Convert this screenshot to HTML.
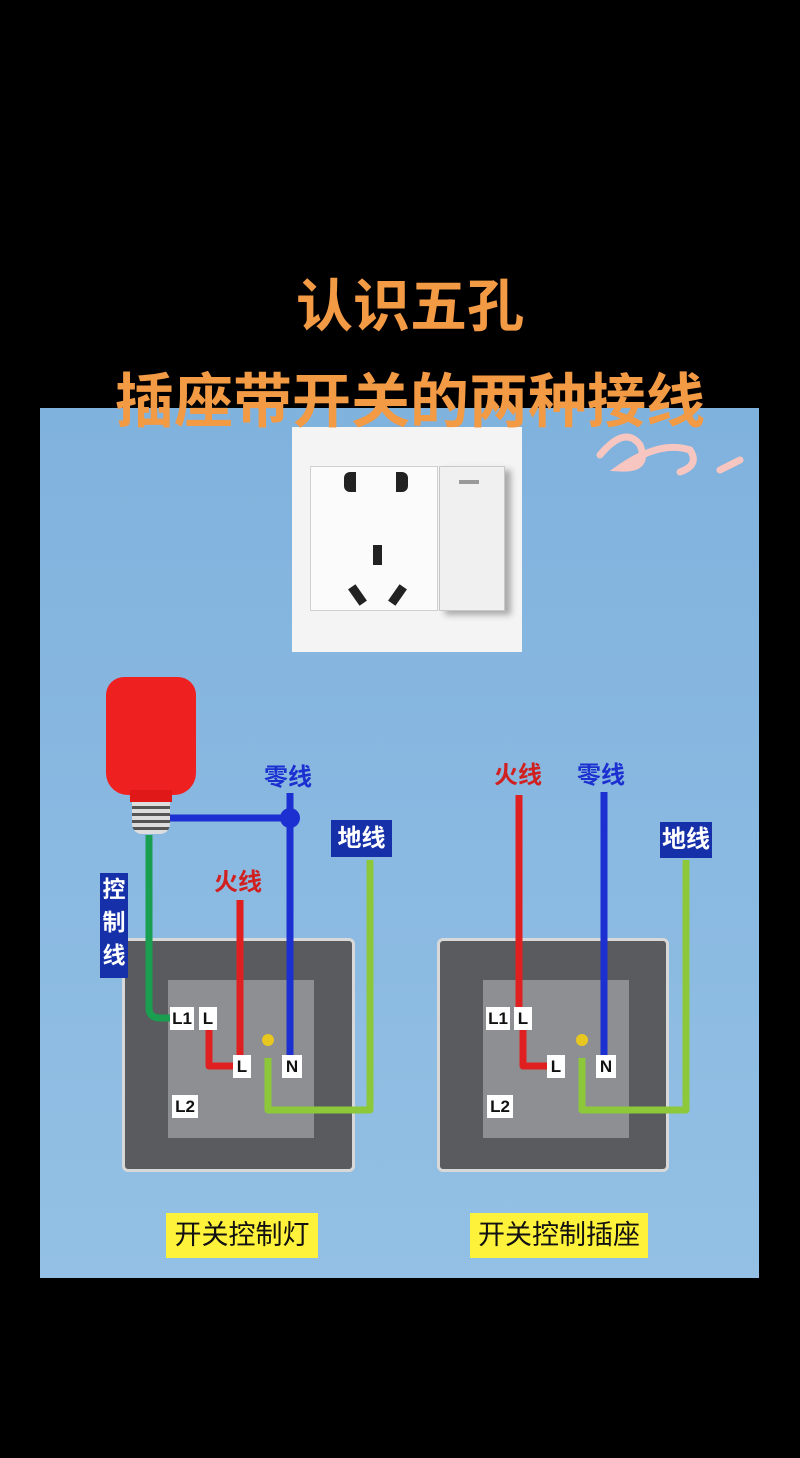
<!DOCTYPE html>
<html><head><meta charset="utf-8"><style>
*{margin:0;padding:0;box-sizing:border-box}
body{width:800px;height:1458px;background:#000;position:relative;overflow:hidden;font-family:"Liberation Sans","Noto Sans CJK SC",sans-serif}
.a{position:absolute}
.t{color:#f39a45;font-weight:bold;white-space:nowrap;text-align:center;width:800px;left:10px}
.lbl{position:absolute;background:#fff;color:#111;font-weight:bold;font-size:17px;text-align:center;line-height:23px;height:23px}
.box{position:absolute;background:#1530a8;color:#fff;font-size:24px;text-align:center;font-weight:bold}
.ylw{position:absolute;background:#fff23a;color:#111;font-size:27px;text-align:center;line-height:45px;height:45px}
</style></head><body>
<div class="a" style="left:40px;top:408px;width:719px;height:870px;background:linear-gradient(#80b2de,#93c0e4)"></div>
<div class="a" style="left:292px;top:427px;width:230px;height:225px;background:#f4f4f4"></div>
<div class="a" style="left:310px;top:466px;width:128px;height:145px;background:#fbfbfb;border:1px solid #d0d0d0"></div>
<div class="a" style="left:439px;top:466px;width:66px;height:145px;background:#f0f0f0;border:1px solid #c8c8c8;box-shadow:6px 4px 6px #aaa"></div>
<div class="a" style="left:459px;top:480px;width:20px;height:4px;background:#999"></div>
<div class="a" style="left:344px;top:472px;width:12px;height:20px;background:#222;border-radius:6px 0 0 6px"></div>
<div class="a" style="left:396px;top:472px;width:12px;height:20px;background:#222;border-radius:0 6px 6px 0"></div>
<div class="a" style="left:373px;top:545px;width:9px;height:20px;background:#222"></div>
<div class="a" style="left:353px;top:585px;width:9px;height:20px;background:#222;transform:rotate(-35deg)"></div>
<div class="a" style="left:393px;top:585px;width:9px;height:20px;background:#222;transform:rotate(35deg)"></div>
<div class="t a" style="top:271px;font-size:57px;line-height:72px">认识五孔</div>
<div class="t a" style="top:365px;font-size:59px;line-height:74px">插座带开关的两种接线</div>
<svg class="a" style="left:0;top:0" width="800" height="1458">
<path d="M600 455 Q625 425 640 445 Q650 470 620 468 Q660 440 690 450 Q700 465 680 472 M720 470 L740 460" stroke="#f7c6c0" stroke-width="7" fill="none" stroke-linecap="round"/>
</svg>
<div class="a" style="left:122px;top:938px;width:233px;height:234px;background:#5a5b5e;border:3px solid #d8d8d8;border-radius:6px"></div>
<div class="a" style="left:168px;top:980px;width:146px;height:158px;background:#8e8f92"></div>
<div class="a" style="left:437px;top:938px;width:232px;height:234px;background:#5a5b5e;border:3px solid #d8d8d8;border-radius:6px"></div>
<div class="a" style="left:483px;top:980px;width:146px;height:158px;background:#8e8f92"></div>
<div class="a" style="left:106px;top:677px;width:90px;height:118px;background:#ee2020;border-radius:18px 18px 22px 22px"></div>
<div class="a" style="left:130px;top:790px;width:42px;height:12px;background:#e01818"></div>
<div class="a" style="left:132px;top:802px;width:38px;height:32px;background:repeating-linear-gradient(#ddd 0 4px,#555 4px 7px);border-radius:0 0 10px 10px"></div>
<svg class="a" style="left:0;top:0" width="800" height="1458" fill="none">
<g stroke-width="7" stroke-linejoin="round">
<path d="M149 835 V1008 Q149 1018 160 1018 H174" stroke="#1a9e50"/>
<path d="M170 818 H290 M290 793 V1058" stroke="#1c2fd0"/>
<path d="M240 900 V1058" stroke="#e02020"/>
<path d="M209 1030 V1066 H236" stroke="#e02020"/>
<path d="M370 860 V1110 H268 V1058" stroke="#8cc83a"/>
<path d="M519 795 V1008" stroke="#e02020"/>
<path d="M604 792 V1058" stroke="#1c2fd0"/>
<path d="M523 1030 V1066 H550" stroke="#e02020"/>
<path d="M686 860 V1110 H582 V1058" stroke="#8cc83a"/>
</g>
<circle cx="290" cy="818" r="10" fill="#1c2fd0"/>
<circle cx="268" cy="1040" r="6" fill="#e8c820"/>
<circle cx="582" cy="1040" r="6" fill="#e8c820"/>
</svg>
<div class="lbl" style="left:170px;top:1007px;width:24px">L1</div>
<div class="lbl" style="left:199px;top:1007px;width:18px">L</div>
<div class="lbl" style="left:233px;top:1055px;width:18px">L</div>
<div class="lbl" style="left:282px;top:1055px;width:20px">N</div>
<div class="lbl" style="left:172px;top:1095px;width:26px">L2</div>
<div class="lbl" style="left:486px;top:1007px;width:24px">L1</div>
<div class="lbl" style="left:514px;top:1007px;width:18px">L</div>
<div class="lbl" style="left:547px;top:1055px;width:18px">L</div>
<div class="lbl" style="left:596px;top:1055px;width:20px">N</div>
<div class="lbl" style="left:487px;top:1095px;width:26px">L2</div>
<div class="a" style="left:264px;top:757px;font-size:24px;color:#1c2fd0;font-weight:bold">零线</div>
<div class="a" style="left:214px;top:862px;font-size:24px;color:#d02020;font-weight:bold">火线</div>
<div class="a" style="left:494px;top:755px;font-size:24px;color:#d02020;font-weight:bold">火线</div>
<div class="a" style="left:577px;top:755px;font-size:24px;color:#1c2fd0;font-weight:bold">零线</div>
<div class="box" style="left:331px;top:820px;width:61px;height:37px;line-height:37px">地线</div>
<div class="box" style="left:660px;top:822px;width:52px;height:36px;line-height:36px">地线</div>
<div class="box" style="left:100px;top:873px;width:28px;height:105px;line-height:33px;font-size:23px">控<br>制<br>线</div>
<div class="ylw" style="left:166px;top:1213px;width:152px">开关控制灯</div>
<div class="ylw" style="left:470px;top:1213px;width:178px">开关控制插座</div>
</body></html>
